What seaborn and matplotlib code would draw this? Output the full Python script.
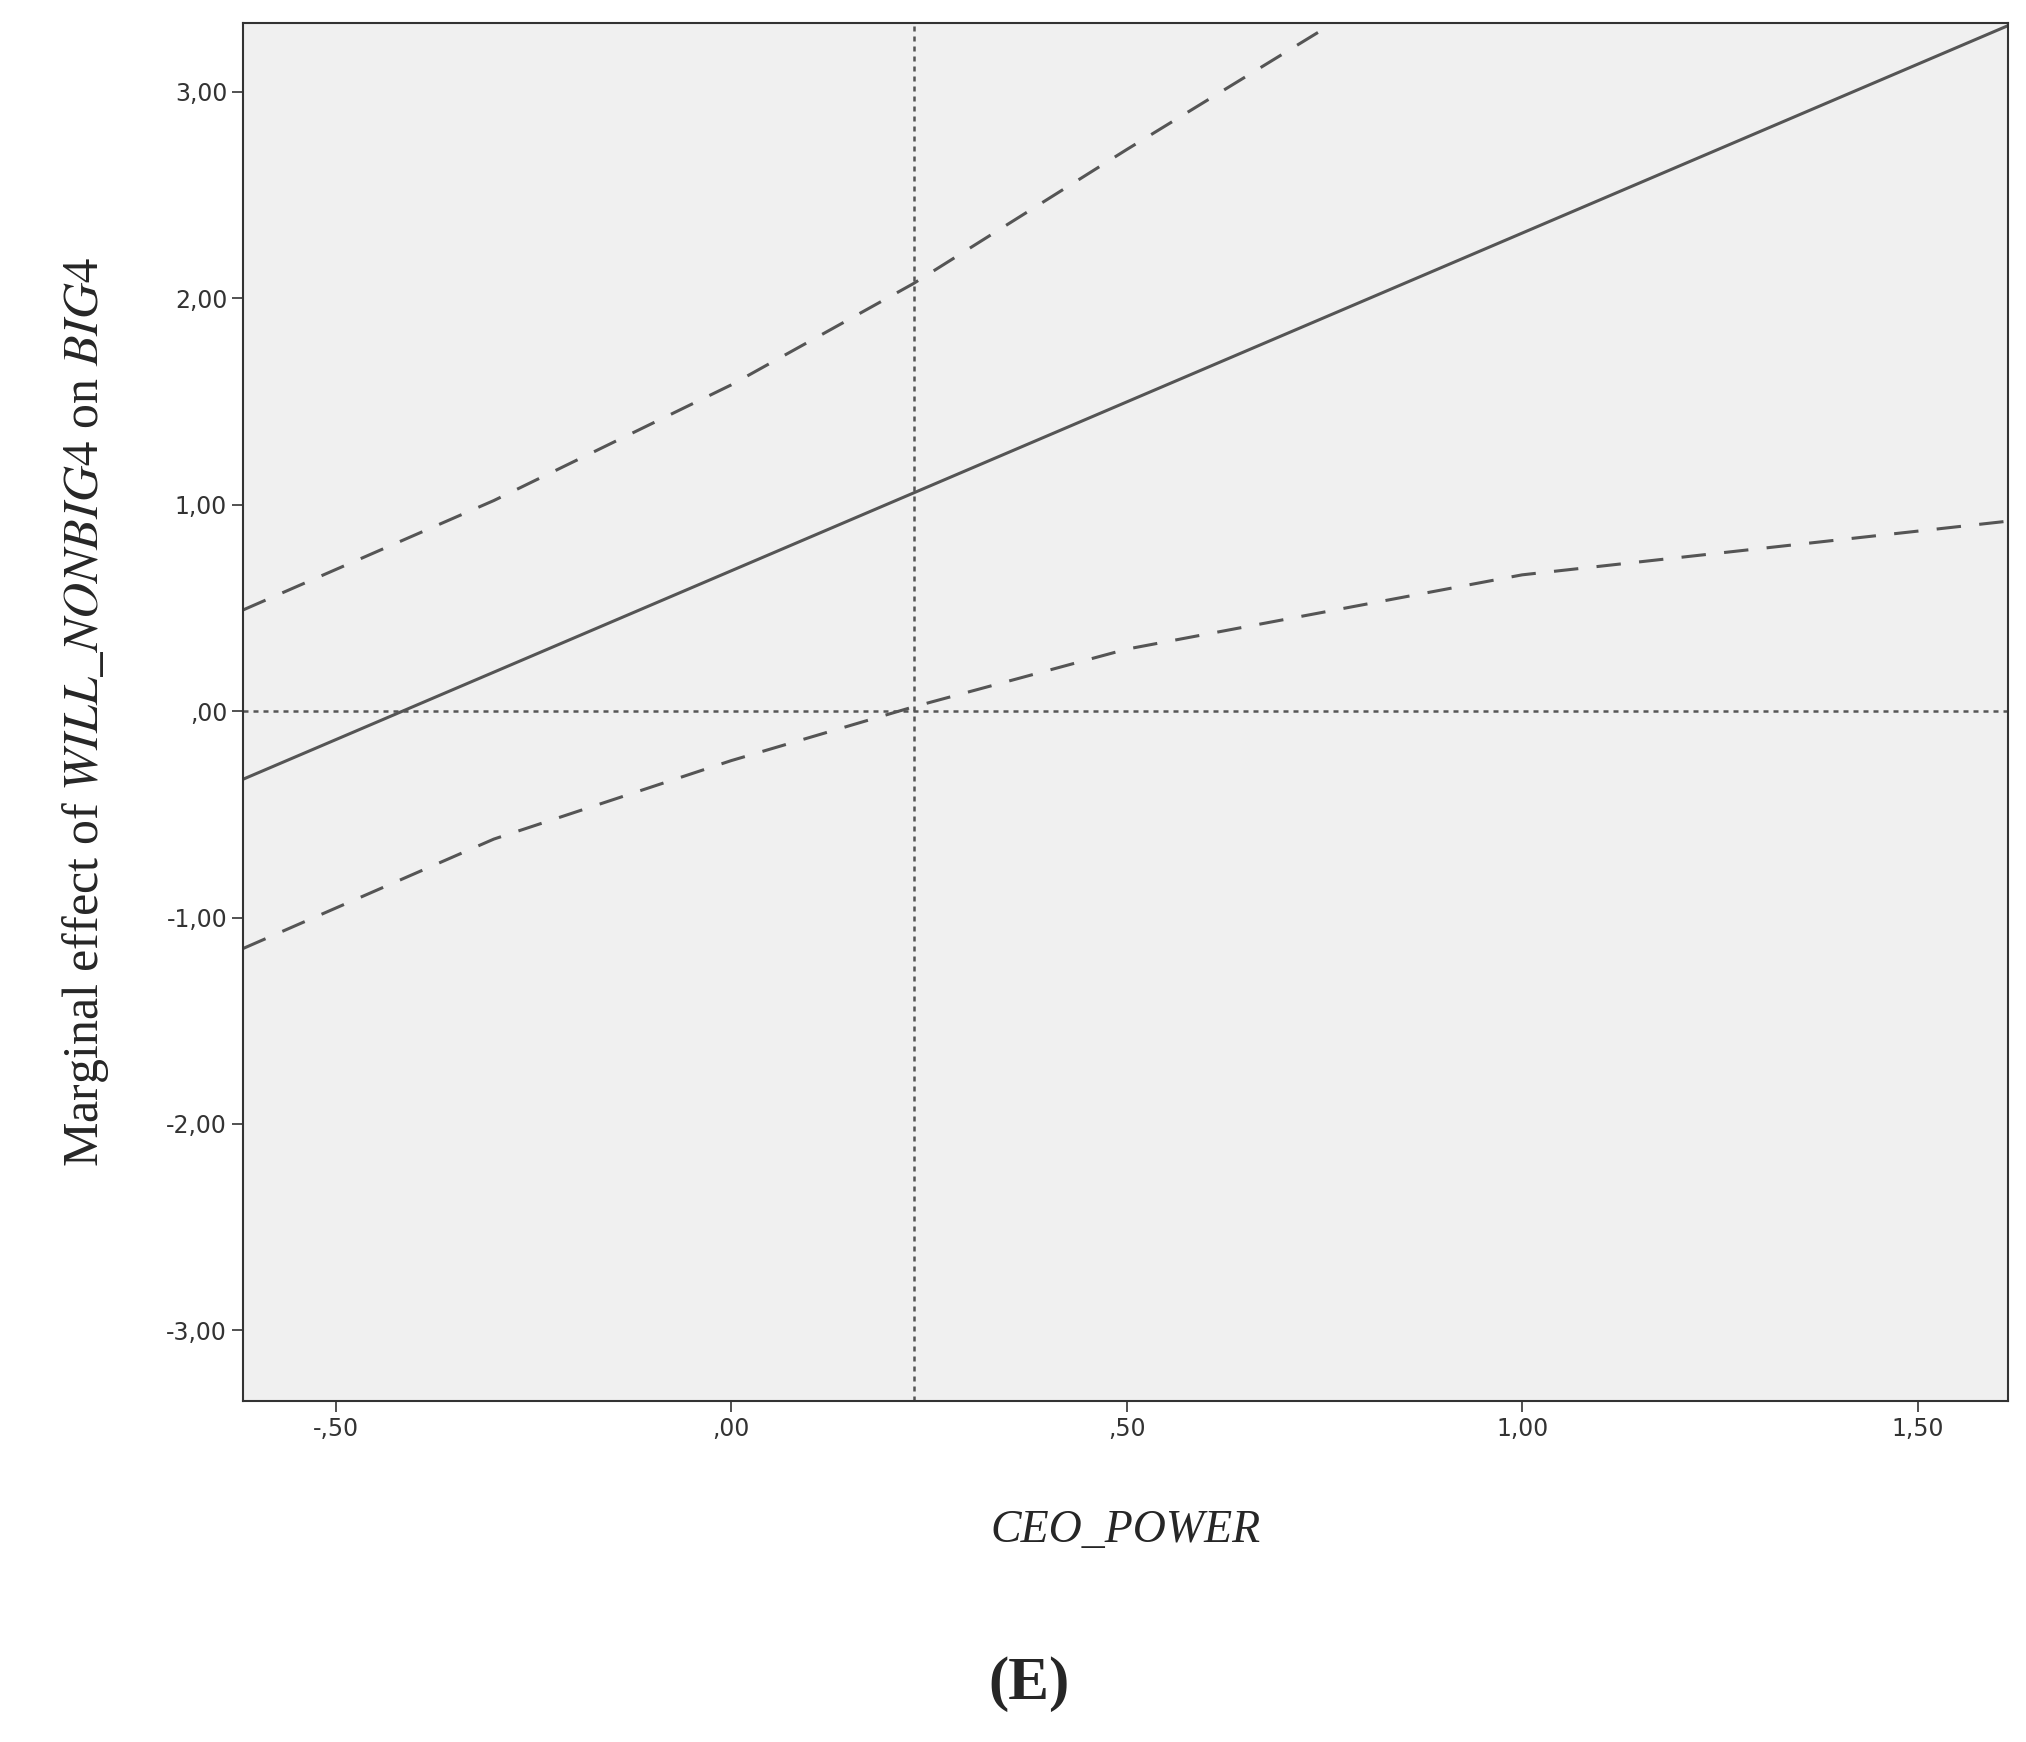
import matplotlib
matplotlib.use("Agg")
import matplotlib.pyplot as plt
import seaborn as sns

sns.set_theme(style="white")
plt.rcParams['mathtext.fontset'] = 'stix'

x_main = [-0.617, 1.614]
y_main = [-0.33, 3.32]
x_up = [-0.617, -0.3, 0.0, 0.23, 0.5, 0.76]
y_up = [0.49, 1.02, 1.58, 2.07, 2.72, 3.33]
x_lo = [-0.617, -0.3, 0.0, 0.23, 0.5, 1.0, 1.614]
y_lo = [-1.15, -0.62, -0.24, 0.02, 0.30, 0.66, 0.92]
xticks = [-0.5, 0.0, 0.5, 1.0, 1.5]
xticklabels = ["-,50", ",00", ",50", "1,00", "1,50"]
yticks = [-3, -2, -1, 0, 1, 2, 3]
yticklabels = ["-3,00", "-2,00", "-1,00", ",00", "1,00", "2,00", "3,00"]
vline_x = 0.231

fig = plt.figure(figsize=(20.26, 17.42), dpi=100)
ax = fig.add_axes([0.12, 0.196, 0.871, 0.791])
ax.set_facecolor("#f0f0f0")
c = "#555555"
sns.lineplot(x=x_main, y=y_main, ax=ax, color=c, lw=2.2)
sns.lineplot(x=x_up, y=y_up, ax=ax, color=c, lw=2.2, linestyle=(0, (8, 6)))
sns.lineplot(x=x_lo, y=y_lo, ax=ax, color=c, lw=2.2, linestyle=(0, (8, 6)))
ax.axhline(0, color=c, lw=1.8, linestyle=(0, (2, 2)))
ax.axvline(vline_x, color=c, lw=1.8, linestyle=(0, (2, 2)))
ax.set_xlim(-0.617, 1.614)
ax.set_ylim(-3.34, 3.335)
ax.set_xticks(xticks)
ax.set_xticklabels(xticklabels, fontsize=17, color="#333333")
ax.set_yticks(yticks)
ax.set_yticklabels(yticklabels, fontsize=17, color="#333333")
ax.tick_params(direction="out", length=8, width=1.2, color="#333333", left=True, bottom=True)
for s in ax.spines.values():
    s.set_color("#333333"); s.set_linewidth(1.5)
ax.set_xlabel("CEO_POWER", family="Liberation Serif", style="italic", fontsize=33, labelpad=50)
ax.set_ylabel(r"Marginal effect of $\mathit{WILL\_NONBIG4}$ on $\mathit{BIG4}$",
              family="Liberation Serif", fontsize=36, labelpad=40)
fig.text(0.508, 0.025, "(E)", family="Liberation Serif", fontweight="bold", fontsize=44, ha="center")
fig.savefig("out.png", dpi=100, facecolor="white")
